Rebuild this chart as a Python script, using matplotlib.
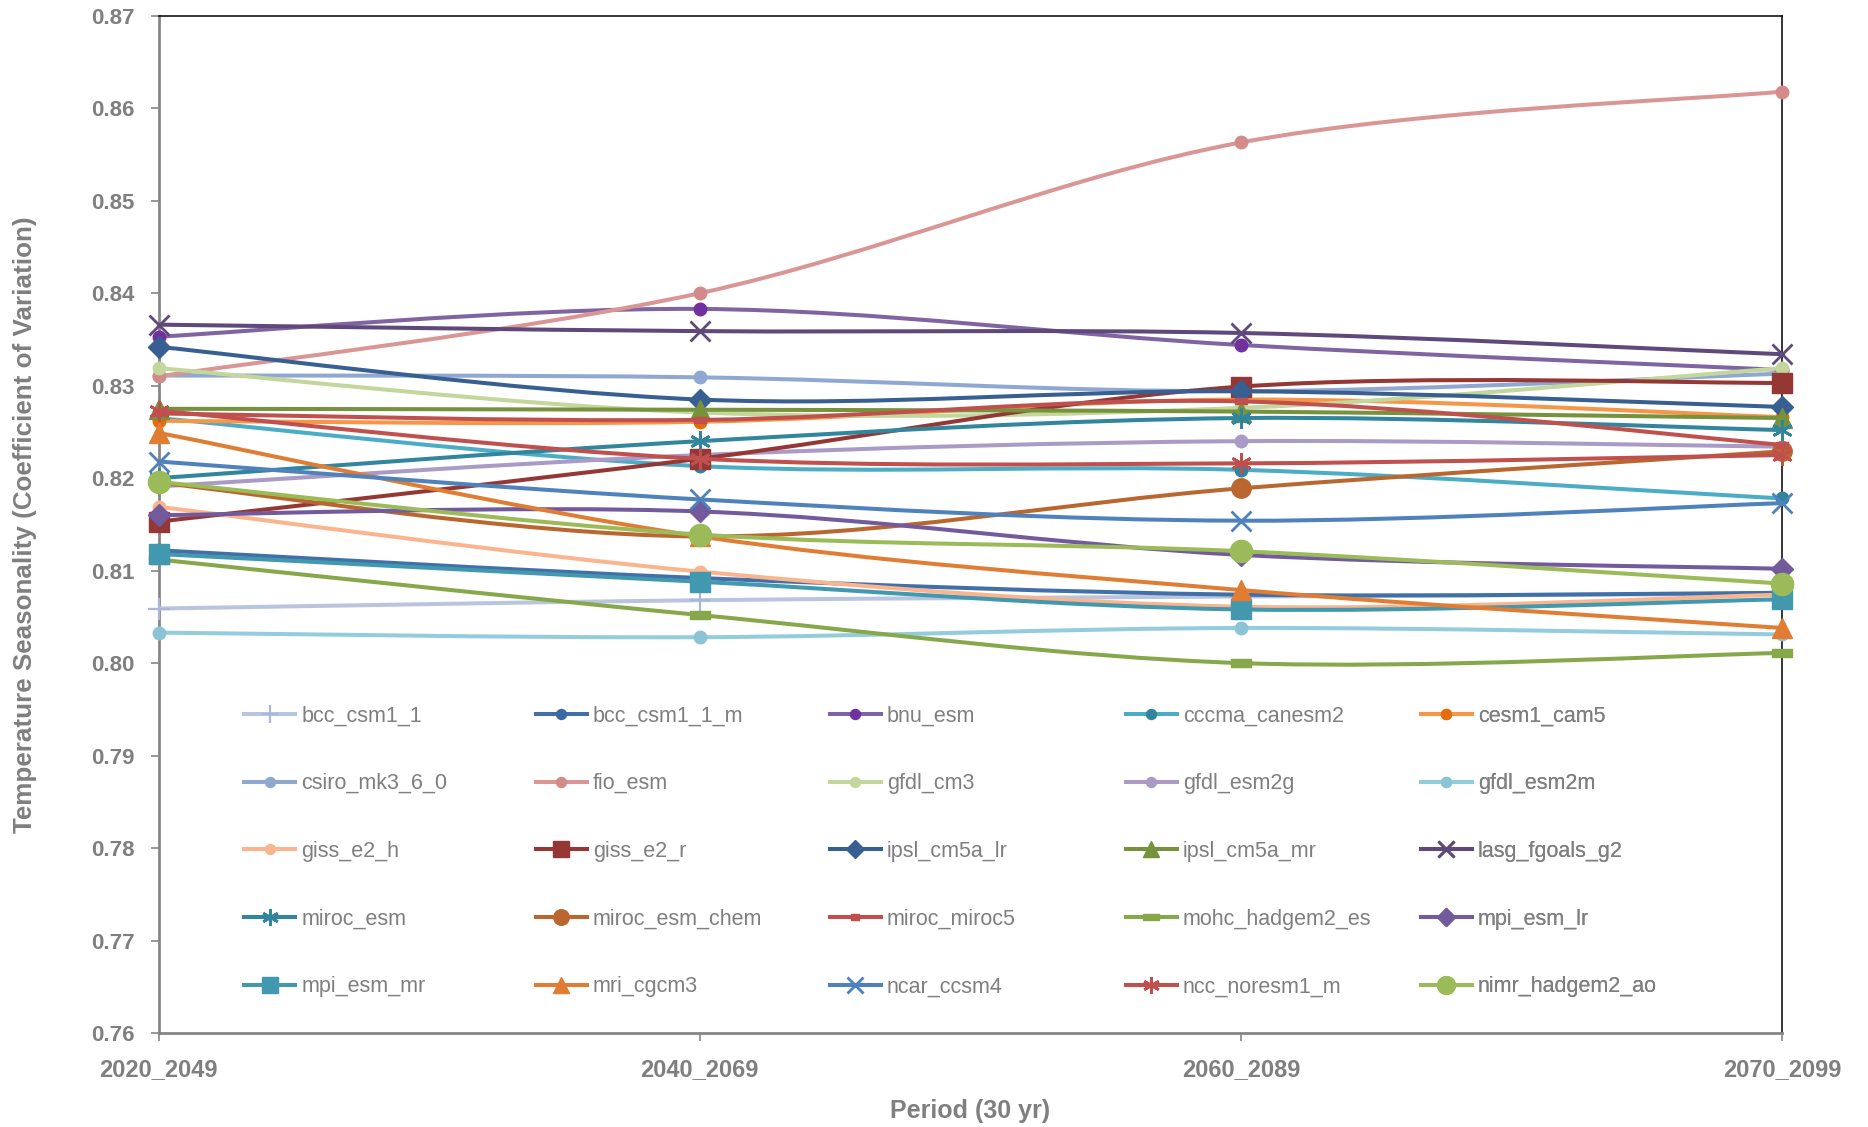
import matplotlib
matplotlib.use("Agg")
import matplotlib.pyplot as plt
from matplotlib.path import Path
from matplotlib.patches import PathPatch
from matplotlib.lines import Line2D
import numpy as np

# ---------------- data ----------------
periods = ["2020_2049", "2040_2069", "2060_2089", "2070_2099"]

models = ["bcc_csm1_1", "bcc_csm1_1_m", "bnu_esm", "cccma_canesm2", "cesm1_cam5",
          "csiro_mk3_6_0", "fio_esm", "gfdl_cm3", "gfdl_esm2g", "gfdl_esm2m",
          "giss_e2_h", "giss_e2_r", "ipsl_cm5a_lr", "ipsl_cm5a_mr", "lasg_fgoals_g2",
          "miroc_esm", "miroc_esm_chem", "miroc_miroc5", "mohc_hadgem2_es", "mpi_esm_lr",
          "mpi_esm_mr", "mri_cgcm3", "ncar_ccsm4", "ncc_noresm1_m", "nimr_hadgem2_ao"]

bcc_csm1_1 = [0.8059, 0.8068, 0.8072, 0.8075]
bcc_csm1_1_m = [0.8122, 0.8092, 0.8074, 0.8076]
bnu_esm = [0.8353, 0.8383, 0.8344, 0.8317]
cccma_canesm2 = [0.8265, 0.8213, 0.8209, 0.8178]
cesm1_cam5 = [0.8262, 0.8261, 0.8285, 0.8266]
csiro_mk3_6_0 = [0.8311, 0.8309, 0.8294, 0.8313]
fio_esm = [0.8310, 0.8400, 0.8563, 0.8618]
gfdl_cm3 = [0.8319, 0.8271, 0.8276, 0.8319]
gfdl_esm2g = [0.8191, 0.8225, 0.8240, 0.8234]
gfdl_esm2m = [0.8033, 0.8028, 0.8038, 0.8031]
giss_e2_h = [0.8169, 0.8099, 0.8061, 0.8074]
giss_e2_r = [0.8153, 0.8221, 0.8299, 0.8303]
ipsl_cm5a_lr = [0.8342, 0.8285, 0.8294, 0.8277]
ipsl_cm5a_mr = [0.8275, 0.8274, 0.8272, 0.8265]
lasg_fgoals_g2 = [0.8366, 0.8359, 0.8357, 0.8334]
miroc_esm = [0.8200, 0.8240, 0.8265, 0.8252]
miroc_esm_chem = [0.8195, 0.8137, 0.8189, 0.8229]
miroc_miroc5 = [0.8270, 0.8263, 0.8283, 0.8236]
mohc_hadgem2_es = [0.8112, 0.8052, 0.8000, 0.8011]
mpi_esm_lr = [0.8160, 0.8164, 0.8117, 0.8102]
mpi_esm_mr = [0.8118, 0.8088, 0.8058, 0.8069]
mri_cgcm3 = [0.8249, 0.8137, 0.8079, 0.8038]
ncar_ccsm4 = [0.8218, 0.8177, 0.8154, 0.8173]
ncc_noresm1_m = [0.8273, 0.8221, 0.8216, 0.8225]
nimr_hadgem2_ao = [0.8196, 0.8139, 0.8121, 0.8086]

values = [bcc_csm1_1, bcc_csm1_1_m, bnu_esm, cccma_canesm2, cesm1_cam5,
          csiro_mk3_6_0, fio_esm, gfdl_cm3, gfdl_esm2g, gfdl_esm2m,
          giss_e2_h, giss_e2_r, ipsl_cm5a_lr, ipsl_cm5a_mr, lasg_fgoals_g2,
          miroc_esm, miroc_esm_chem, miroc_miroc5, mohc_hadgem2_es, mpi_esm_lr,
          mpi_esm_mr, mri_cgcm3, ncar_ccsm4, ncc_noresm1_m, nimr_hadgem2_ao]

y_ticks = [0.76, 0.77, 0.78, 0.79, 0.80, 0.81, 0.82, 0.83, 0.84, 0.85, 0.86, 0.87]

# ---------------- styles ----------------
bar_wide = [(-1, -0.35), (1, -0.35), (1, 0.35), (-1, 0.35), (-1, -0.35)]
bar_small = [(-1, -0.6), (1, -0.6), (1, 0.6), (-1, 0.6), (-1, -0.6)]
asterisk = (6, 2, 0)

# (line color, marker, marker color, marker size, marker edge width)
styles = [
    ("#b9c5df", "+", "#aab7d6", 16, 1.6),
    ("#4170a8", "o", "#3c69a3", 9, 1),
    ("#8064a2", "o", "#7030a0", 9, 1),
    ("#4bacc6", "o", "#31849b", 9, 1),
    ("#f79646", "o", "#e46c0a", 9, 1),
    ("#8fa8d2", "o", "#8fa8d2", 9, 1),
    ("#d99694", "o", "#d38b89", 9, 1),
    ("#c3d69b", "o", "#c3d69b", 9, 1),
    ("#aa9bc6", "o", "#aa9bc6", 9, 1),
    ("#93cddd", "o", "#8cc4d6", 9, 1),
    ("#fab58e", "o", "#fab58e", 9, 1),
    ("#953735", "s", "#953735", 15, 1),
    ("#375f92", "D", "#375f92", 11, 1),
    ("#76923c", "^", "#76923c", 14, 1),
    ("#5f497a", "x", "#5f497a", 15, 2),
    ("#31859c", asterisk, "#31859c", 15, 2),
    ("#b9672e", "o", "#b9672e", 14, 1),
    ("#c0504d", bar_small, "#c0504d", 8, 1),
    ("#86a84a", bar_wide, "#86a84a", 15, 1),
    ("#735a9d", "D", "#735a9d", 11, 1),
    ("#4198af", "s", "#4198af", 15, 1),
    ("#e07d33", "^", "#e07d33", 14, 1),
    ("#4f81bd", "x", "#4f81bd", 15, 2),
    ("#c0504d", asterisk, "#c0504d", 15, 2),
    ("#9bbb59", "o", "#9bbb59", 16, 1),
]

# ---------------- fonts ----------------
plt.rcParams["font.family"] = ["Liberation Sans", "DejaVu Sans"]
grey = "#7f7f7f"
xtick_fs = 17
ytick_fs = 16
leg_fs = 15.5
ylab_fs = 18.7
xlab_fs = 18

# ---------------- figure ----------------
fig = plt.figure(figsize=(18.68, 11.27), dpi=100)
ax = fig.add_axes([0.0849, 0.0834, 0.954 - 0.0849, 0.986 - 0.0834])

x = np.arange(len(periods), dtype=float)
lw = 2.9


def smooth_path(xs, ys):
    pts = np.column_stack([xs, ys])
    n = len(pts)
    verts = [pts[0]]
    codes = [Path.MOVETO]
    for i in range(n - 1):
        p0 = pts[i - 1] if i > 0 else pts[i]
        p1 = pts[i]
        p2 = pts[i + 1]
        p3 = pts[i + 2] if i + 2 < n else pts[i + 1]
        c1 = p1 + (p2 - p0) / 6.0
        c2 = p2 - (p3 - p1) / 6.0
        verts += [c1, c2, p2]
        codes += [Path.CURVE4] * 3
    return Path(np.array(verts), codes)


handles = []
for k, (name, vals) in enumerate(zip(models, values)):
    lc, mk, mc, ms, mew = styles[k]
    z = 3 + k * 0.01
    patch = PathPatch(smooth_path(x, vals), facecolor="none", edgecolor=lc,
                      lw=lw, capstyle="round", joinstyle="round", zorder=z)
    ax.add_patch(patch)
    ax.plot(x, vals, linestyle="none", marker=mk, markersize=ms,
            markerfacecolor=mc, markeredgecolor=mc, markeredgewidth=mew,
            clip_on=False, zorder=z + 0.005)
    handles.append(Line2D([], [], color=lc, lw=lw, marker=mk,
                          markersize=ms * 0.8, markerfacecolor=mc,
                          markeredgecolor=mc, markeredgewidth=mew))

ax.set_xlim(0, 3)
ax.set_ylim(0.76, 0.87)
ax.set_xticks(x)
ax.set_xticklabels(periods)
ax.set_yticks(y_ticks)
ax.set_yticklabels([f"{v:.2f}" for v in y_ticks])

for lab in ax.get_xticklabels():
    lab.set_fontweight("bold")
    lab.set_color(grey)
    lab.set_fontsize(xtick_fs)
for lab in ax.get_yticklabels():
    lab.set_fontweight("bold")
    lab.set_color(grey)
    lab.set_fontsize(ytick_fs)

ax.tick_params(axis="y", direction="out", length=6, width=1.2, color="#868686", pad=11)
ax.tick_params(axis="x", direction="out", length=6, width=1.2, color="#868686", pad=12)

for s in ["left", "bottom"]:
    ax.spines[s].set_color("#868686")
    ax.spines[s].set_linewidth(2.0)
for s in ["top", "right"]:
    ax.spines[s].set_color("black")
    ax.spines[s].set_linewidth(1.1)

ax.set_ylabel("Temperature Seasonality (Coefficient of Variation)", fontsize=ylab_fs,
              fontweight="bold", color=grey)
ax.yaxis.set_label_coords(-0.0748, 0.5)
ax.set_xlabel("Period (30 yr)", fontsize=xlab_fs, fontweight="bold", color=grey)
ax.xaxis.set_label_coords(0.5, -0.0649)

# ---------------- legend: 5 columns, row-major ----------------
col_x = [0.0527, 0.2324, 0.4135, 0.5958, 0.7775]
top_y = 0.322
for c in range(5):
    hs = [handles[r * 5 + c] for r in range(5)]
    ls = [models[r * 5 + c] for r in range(5)]
    leg = ax.legend(hs, ls, loc="upper left", bbox_to_anchor=(col_x[c], top_y),
                    frameon=False, fontsize=leg_fs, handlelength=2.37,
                    handletextpad=0.28, labelspacing=2.17, borderpad=0,
                    borderaxespad=0, labelcolor=grey)
    leg.set_zorder(10)
    ax.add_artist(leg)

fig.savefig("out.png", dpi=100)
